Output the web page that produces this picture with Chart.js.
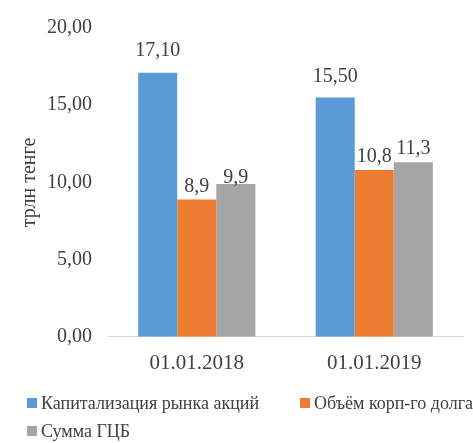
<!DOCTYPE html>
<html lang="ru">
<head>
  <meta charset="UTF-8" />
  <title>Фондовый рынок</title>
  <script src="https://cdn.jsdelivr.net/npm/chart.js"></script>
  <style>
    html, body { margin: 0; padding: 0; background: #fff; }
    .wrap { width: 473px; height: 443px; position: relative; overflow: hidden; }
    #legend {
      position: absolute; left: 0; top: 389px; width: 473px; height: 56px;
      font-family: 'Times New Roman', 'Liberation Serif', serif;
      font-size: 18px; line-height: 28px; color: #404040;
    }
    #legend .item { position: absolute; display: flex; align-items: center; white-space: nowrap; }
    #legend .box { width: 10px; height: 10px; margin-right: 4px; }
  </style>
</head>
<body>
  <div class="wrap">
    <canvas id="chart"></canvas>
    <div id="legend"></div>
  </div>
  <script>
    const categories = ['01.01.2018', '01.01.2019'];
    const seriesNames = ['Капитализация рынка акций', 'Объём корп-го долга', 'Сумма ГЦБ'];
    const capitalization = [17.10, 15.50];
    const corpDebt = [8.9, 10.8];
    const govSecurities = [9.9, 11.3];
    const yTicks = [0, 5, 10, 15, 20];

    const colors = ['#5B9BD5', '#ED7D31', '#A5A5A5'];
    const textColor = '#404040';
    const serif = 'Times New Roman, Liberation Serif, serif';
    const comma = (v, d) => v.toFixed(d).replace('.', ',');

    // подписи значений над столбцами
    const valueLabels = {
      id: 'valueLabels',
      afterDatasetsDraw(chart) {
        const ctx = chart.ctx;
        ctx.save();
        ctx.fillStyle = textColor;
        ctx.font = '20px ' + serif;
        ctx.textAlign = 'center';
        ctx.textBaseline = 'alphabetic';
        chart.data.datasets.forEach((ds, i) => {
          chart.getDatasetMeta(i).data.forEach((bar, j) => {
            ctx.fillText(comma(ds.data[j], ds.decimals), bar.x, bar.y - ds.labelGap[j]);
          });
        });
        ctx.restore();
      }
    };

    new Chart(document.getElementById('chart'), {
      type: 'bar',
      data: {
        labels: categories,
        datasets: [
          { label: seriesNames[0], data: capitalization, decimals: 2, labelGap: [17, 15], backgroundColor: colors[0] },
          { label: seriesNames[1], data: corpDebt, decimals: 1, labelGap: [7, 8], backgroundColor: colors[1] },
          { label: seriesNames[2], data: govSecurities, decimals: 1, labelGap: [1, 8], backgroundColor: colors[2] }
        ]
      },
      options: {
        responsive: true,
        maintainAspectRatio: false,
        animation: false,
        layout: { padding: { top: 2, right: 10, left: 12, bottom: 53 } },
        datasets: { bar: { categoryPercentage: 0.66, barPercentage: 1, borderWidth: 0 } },
        plugins: {
          tooltip: { enabled: false },
          legend: { display: false }
        },
        scales: {
          x: {
            grid: { display: false, drawTicks: false },
            border: { color: '#D9D9D9', width: 1 },
            ticks: { color: textColor, font: { family: serif, size: 21 }, padding: 14 }
          },
          y: {
            min: 0, max: 20,
            grid: { display: false, drawTicks: false },
            border: { display: false },
            afterBuildTicks(axis) { axis.ticks = yTicks.map(v => ({ value: v })); },
            afterFit(axis) { axis.width = 96; },
            ticks: {
              color: textColor, font: { family: serif, size: 20 }, padding: 16,
              callback: v => comma(v, 2)
            },
            title: {
              display: true, text: 'трлн тенге', color: textColor,
              font: { family: serif, size: 20 }, padding: { top: 6, bottom: 2 }
            }
          }
        }
      },
      plugins: [valueLabels]
    });

    // легенда: две строки, как в исходнике
    const legendSpots = [[27, 0], [300, 0], [27, 28]];
    const legend = document.getElementById('legend');
    seriesNames.forEach((name, i) => {
      const item = document.createElement('div');
      item.className = 'item';
      item.style.left = legendSpots[i][0] + 'px';
      item.style.top = legendSpots[i][1] + 'px';
      item.innerHTML = `<span class="box" style="background:${colors[i]}"></span>${name}`;
      legend.appendChild(item);
    });
  </script>
</body>
</html>
